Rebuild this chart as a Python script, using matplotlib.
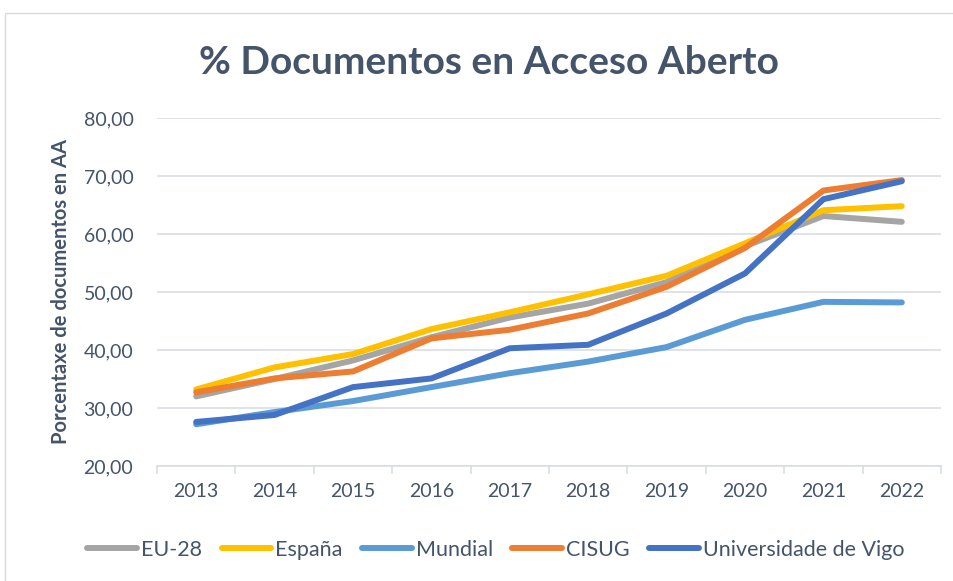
import numpy as np
import matplotlib.pyplot as plt
from matplotlib.patches import Rectangle

years = [2013, 2014, 2015, 2016, 2017, 2018, 2019, 2020, 2021, 2022]
eu28 = [32.0, 35.0, 38.2, 42.2, 45.6, 48.0, 51.7, 57.9, 63.1, 62.1]
espana = [33.2, 37.0, 39.3, 43.6, 46.5, 49.6, 52.8, 58.4, 64.1, 64.8]
mundial = [27.2, 29.3, 31.2, 33.6, 36.0, 38.0, 40.5, 45.2, 48.3, 48.2]
cisug = [32.7, 35.1, 36.3, 42.0, 43.5, 46.3, 50.9, 57.6, 67.5, 69.3]
uvigo = [27.6, 28.8, 33.6, 35.1, 40.3, 40.9, 46.3, 53.2, 66.0, 69.1]

series = [("EU-28", eu28, "#A5A5A5"),
          ("España", espana, "#FFC000"),
          ("Mundial", mundial, "#5B9BD5"),
          ("CISUG", cisug, "#ED7D31"),
          ("Universidade de Vigo", uvigo, "#4472C4")]

plt.rcParams['font.family'] = ['Lato', 'DejaVu Sans']
txt = '#44546A'
grid = '#D9DDE3'

fig = plt.figure(figsize=(9.54, 5.81), dpi=100)
fig.patches.append(Rectangle((5/954, -0.1), 1.2, 1 - 13/581 + 0.1, transform=fig.transFigure,
                             fill=False, edgecolor='#D9D9D9', lw=1))
ax = fig.add_axes([157/954, 1 - 466/581, (941 - 157)/954, (466 - 118)/581])

x = np.arange(len(years))
for name, vals, col in series:
    ax.plot(x, vals, color=col, lw=4.3, solid_capstyle='round', solid_joinstyle='round', label=name)

ax.set_xlim(-0.5, len(years) - 0.5)
ax.set_ylim(20, 80)
ax.set_yticks(np.arange(20, 81, 10))
ax.yaxis.set_major_formatter(plt.FuncFormatter(lambda v, p: ('%.2f' % v).replace('.', ',')))
ax.set_xticks(x)
ax.set_xticklabels([str(y) for y in years])
ax.set_xticks(np.arange(-0.5, len(years)), minor=True)
ax.tick_params(axis='x', which='major', length=0, pad=12, labelsize=14, labelcolor=txt)
ax.tick_params(axis='x', which='minor', length=6, color=grid, width=1.2)
ax.tick_params(axis='y', length=0, pad=17, labelsize=14, labelcolor=txt)
ax.grid(axis='y', color=grid, lw=1.2)
ax.set_axisbelow(True)
for s in ['top', 'right', 'left']:
    ax.spines[s].set_visible(False)
ax.spines['bottom'].set_color(grid)
ax.spines['bottom'].set_linewidth(1.2)

ax.set_ylabel('Porcentaxe de documentos en AA', fontsize=14.5, fontweight='bold', color=txt)
ax.yaxis.set_label_coords(-86/784, 0.5)
fig.text(0.512, 1 - 62/581, '% Documentos en Acceso Aberto', ha='center', va='center',
         fontsize=28, fontweight='bold', color=txt)

fig.legend(loc='center left', bbox_to_anchor=(68/954, 1 - 550/581), ncol=5, frameon=False,
           fontsize=15.5, labelcolor=txt, handlelength=2.3, handletextpad=0.2, columnspacing=0.9)

fig.savefig('out.png', dpi=100)
